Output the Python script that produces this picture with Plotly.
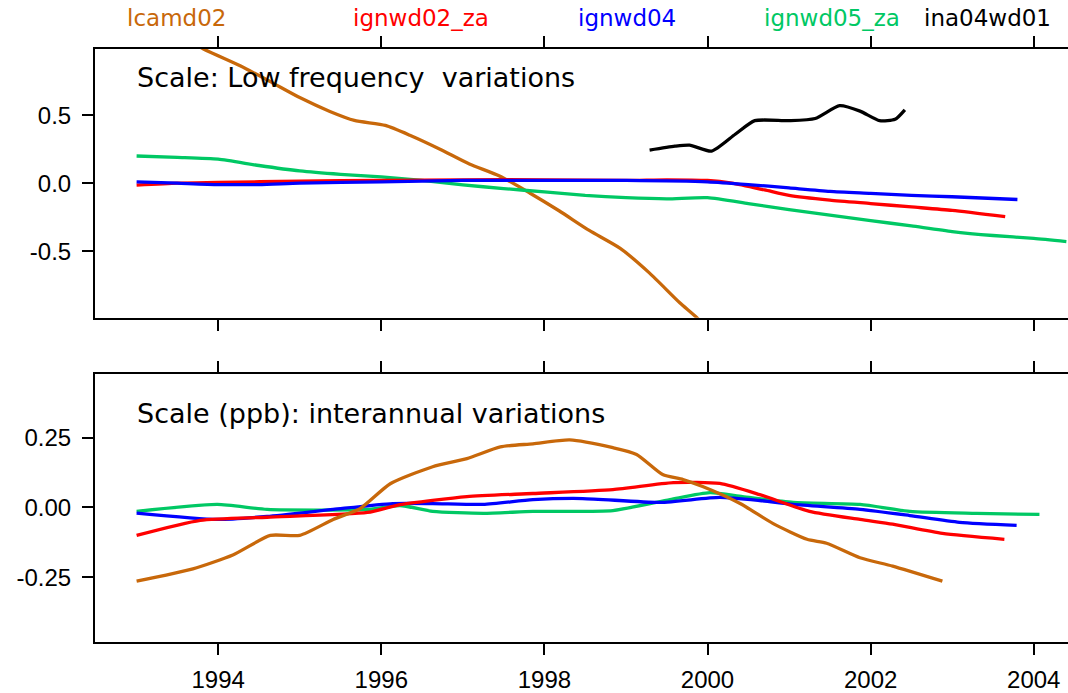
import plotly.graph_objects as go

# ---------------- data ----------------
series_names = ["lcamd02", "ignwd02_za", "ignwd04", "ignwd05_za", "ina04wd01"]
series_colors = ["#C8680A", "#FF0000", "#0000FF", "#00C864", "#000000"]

# Low frequency variations (top panel)
lf_lcamd02_x = [1993.0, 1993.82, 1994.27, 1994.64, 1995.0, 1995.37, 1995.67, 1996.05, 1996.35, 1996.72,
                1997.08, 1997.45, 1997.82, 1998.18, 1998.55, 1998.93, 1999.29, 1999.66, 1999.87, 2000.15]
lf_lcamd02_y = [1.25, 0.988, 0.864, 0.747, 0.63, 0.528, 0.462, 0.425, 0.353, 0.25,
                0.141, 0.053, -0.072, -0.203, -0.348, -0.48, -0.662, -0.88, -0.99, -1.17]

lf_ignwd02_x = [1993.0, 1993.5, 1994.0, 1995.0, 1996.0, 1997.0, 1998.0, 1999.0, 1999.5, 2000.0,
                2000.3, 2000.7, 2001.0, 2001.5, 2002.0, 2002.5, 2003.0, 2003.65]
lf_ignwd02_y = [-0.015, 0.0, 0.005, 0.015, 0.02, 0.025, 0.025, 0.02, 0.025, 0.02,
                0.0, -0.05, -0.09, -0.125, -0.15, -0.175, -0.2, -0.247]

lf_ignwd04_x = [1993.0, 1993.5, 1994.0, 1994.5, 1995.0, 1996.0, 1997.0, 1998.0, 1999.0, 2000.0,
                2000.5, 2001.0, 2001.5, 2002.0, 2002.5, 2003.0, 2003.8]
lf_ignwd04_y = [0.01, 0.0, -0.01, -0.01, 0.0, 0.01, 0.02, 0.02, 0.02, 0.01,
                -0.01, -0.035, -0.06, -0.075, -0.09, -0.1, -0.12]

lf_ignwd05_x = [1993.0, 1993.5, 1994.0, 1994.5, 1995.0, 1995.5, 1996.0, 1996.5, 1997.0, 1997.5,
                1998.0, 1998.5, 1999.0, 1999.5, 2000.0, 2000.5, 2001.0, 2001.5, 2002.0, 2002.5,
                2003.0, 2003.5, 2004.0, 2004.4]
lf_ignwd05_y = [0.20, 0.19, 0.177, 0.13, 0.09, 0.065, 0.046, 0.02, -0.012, -0.04,
                -0.064, -0.09, -0.107, -0.115, -0.107, -0.15, -0.195, -0.235, -0.275, -0.315,
                -0.356, -0.385, -0.407, -0.43]

lf_ina04_x = [1999.29, 1999.60, 1999.78, 2000.05, 2000.34, 2000.58, 2001.0, 2001.32, 2001.62,
              2001.87, 2002.11, 2002.30, 2002.42]
lf_ina04_y = [0.243, 0.272, 0.28, 0.236, 0.36, 0.46, 0.46, 0.476, 0.57,
              0.53, 0.46, 0.47, 0.54]

# Interannual variations (bottom panel)
ia_lcamd02_x = [1993.0, 1993.69, 1994.18, 1994.64, 1995.0, 1995.41, 1995.74, 1996.11, 1996.63, 1997.05,
                1997.46, 1997.86, 1998.31, 1998.84, 1999.13, 1999.45, 1999.70, 1999.94, 2000.40, 2000.80,
                2001.22, 2001.46, 2001.87, 2002.27, 2002.88]
ia_lcamd02_y = [-0.264, -0.22, -0.17, -0.10, -0.10, -0.043, -0.004, 0.085, 0.146, 0.175,
                0.217, 0.228, 0.242, 0.214, 0.19, 0.118, 0.10, 0.075, 0.014, -0.057,
                -0.114, -0.128, -0.18, -0.21, -0.264]

ia_ignwd02_x = [1993.0, 1993.78, 1994.60, 1995.83, 1996.23, 1997.05, 1997.86, 1998.84, 1999.58, 2000.15,
                2000.64, 2001.25, 2001.87, 2002.27, 2002.88, 2003.64]
ia_ignwd02_y = [-0.10, -0.046, -0.035, -0.018, 0.01, 0.039, 0.05, 0.064, 0.089, 0.086,
                0.046, -0.014, -0.043, -0.06, -0.093, -0.114]

ia_ignwd04_x = [1993.0, 1993.99, 1994.60, 1995.41, 1996.14, 1996.63, 1997.25, 1997.86, 1998.47, 1999.42,
                2000.15, 2000.64, 2001.05, 2001.87, 2002.48, 2003.09, 2003.79]
ia_ignwd04_y = [-0.02, -0.043, -0.032, -0.007, 0.014, 0.014, 0.011, 0.028, 0.032, 0.018,
                0.036, 0.025, 0.011, -0.007, -0.029, -0.053, -0.064]

ia_ignwd05_x = [1993.0, 1993.99, 1994.60, 1995.83, 1996.23, 1996.63, 1997.25, 1997.86, 1998.84, 1999.54,
                2000.03, 2000.43, 2001.05, 2001.87, 2002.48, 2003.30, 2004.07]
ia_ignwd05_y = [-0.014, 0.011, -0.007, -0.007, 0.007, -0.014, -0.021, -0.014, -0.011, 0.028,
                0.053, 0.039, 0.018, 0.011, -0.014, -0.021, -0.025]

x_ticks = [1994, 1996, 1998, 2000, 2002, 2004]
top_y_ticks = [-0.5, 0.0, 0.5]
top_y_labels = ["-0.5", "0.0", "0.5"]
bot_y_ticks = [-0.25, 0.0, 0.25]
bot_y_labels = ["-0.25", "0.00", "0.25"]

top_title = "Scale: Low frequency\u00a0 variations"
bot_title = "Scale (ppb): interannual variations"

# ---------------- figure ----------------
W, H = 1068, 693
FONT = "Liberation Sans, Arial, Helvetica, sans-serif"
WIDE = "DejaVu Sans, Verdana, sans-serif"
fig = go.Figure()

top_sets = [(lf_lcamd02_x, lf_lcamd02_y, 0), (lf_ignwd05_x, lf_ignwd05_y, 3),
            (lf_ignwd02_x, lf_ignwd02_y, 1), (lf_ignwd04_x, lf_ignwd04_y, 2),
            (lf_ina04_x, lf_ina04_y, 4)]
for xs, ys, i in top_sets:
    fig.add_trace(go.Scatter(x=xs, y=ys, mode="lines", name=series_names[i],
                             line=dict(color=series_colors[i], width=3.3, shape="spline", smoothing=0.6),
                             xaxis="x", yaxis="y", showlegend=False))

bot_sets = [(ia_ignwd05_x, ia_ignwd05_y, 3), (ia_ignwd04_x, ia_ignwd04_y, 2),
            (ia_ignwd02_x, ia_ignwd02_y, 1), (ia_lcamd02_x, ia_lcamd02_y, 0)]
for xs, ys, i in bot_sets:
    fig.add_trace(go.Scatter(x=xs, y=ys, mode="lines", name=series_names[i],
                             line=dict(color=series_colors[i], width=3.3, shape="spline", smoothing=0.6),
                             xaxis="x2", yaxis="y2", showlegend=False))

L, R = 95, 1068
def ydom(top_px, bot_px):
    return [1 - bot_px / H, 1 - top_px / H]

axis_common = dict(showline=True, linecolor="black", linewidth=2, ticks="outside",
                   ticklen=11, tickwidth=2, tickcolor="black", showgrid=False, zeroline=False,
                   tickfont=dict(family=FONT, size=24, color="black"))
xr = [1992.49, 2004.42]
fig.update_layout(
    width=W, height=H,
    margin=dict(l=L, r=W - R, t=0, b=0),
    paper_bgcolor="white", plot_bgcolor="white",
    xaxis=dict(domain=[0, 1], range=xr, tickvals=x_ticks, showticklabels=False,
               mirror="ticks", anchor="y", **axis_common),
    yaxis=dict(domain=ydom(49, 320), range=[-0.99, 0.99], tickvals=top_y_ticks,
               ticktext=top_y_labels, anchor="x", ticklabelstandoff=6, **axis_common),
    xaxis2=dict(domain=[0, 1], range=xr, tickvals=x_ticks, ticktext=[str(v) for v in x_ticks],
                mirror="ticks", anchor="y2", ticklabelstandoff=4, **axis_common),
    yaxis2=dict(domain=ydom(377, 647), range=[-0.483, 0.477], tickvals=bot_y_ticks,
                ticktext=bot_y_labels, anchor="x2", ticklabelstandoff=6, **axis_common),
)

def px2paper(px):
    return (px - L) / (R - L)

label_centers = [176, 421, 627, 832, 987]
for name, col, cx in zip(series_names, series_colors, label_centers):
    fig.add_annotation(text=name, xref="paper", yref="paper", x=px2paper(cx), y=1 - 18 / H,
                       xanchor="center", yanchor="middle", showarrow=False,
                       font=dict(family=WIDE, size=23, color=col))

fig.add_annotation(text=top_title, xref="paper", yref="paper", x=px2paper(135), y=1 - 78 / H,
                   xanchor="left", yanchor="middle", showarrow=False,
                   font=dict(family=WIDE, size=27, color="black"))
fig.add_annotation(text=bot_title, xref="paper", yref="paper", x=px2paper(135), y=1 - 417 / H,
                   xanchor="left", yanchor="middle", showarrow=False,
                   font=dict(family=WIDE, size=27, color="black"))

fig.write_html("out.html")
